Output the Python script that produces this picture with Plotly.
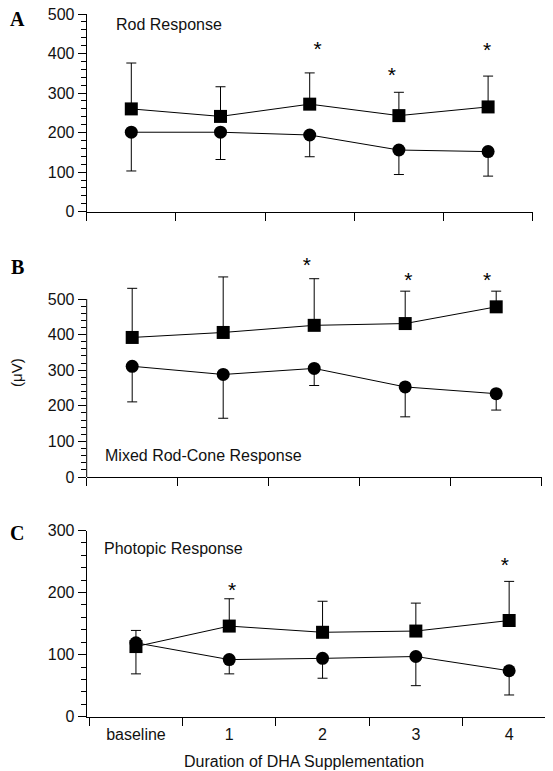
import plotly.graph_objects as go

# page is 553x771; the browser body has an 8px margin, so the figure is 8px smaller
PAGE_W, PAGE_H = 553, 771
OFF = 8
W, H = PAGE_W - OFF, PAGE_H - OFF

# ---------------- data ----------------
x_labels = ["baseline", "1", "2", "3", "4"]
x_pos = [0, 1, 2, 3, 4]

# A: Rod response
rod_sq = [260, 241, 272, 243, 265]
rod_sq_sd = [116, 75, 79, 59, 78]
rod_ci = [201, 201, 194, 156, 152]
rod_ci_sd = [98, 69, 55, 62, 62]
rod_star_x = [2.09, 2.92, 3.99]
rod_star_y = [408, 342, 404]

# B: Mixed rod-cone response
mix_sq = [392, 406, 426, 431, 478]
mix_sq_sd = [138, 156, 131, 91, 44]
mix_ci = [311, 288, 305, 253, 234]
mix_ci_sd = [100, 123, 48, 84, 46]
mix_star_x = [1.92, 3.035, 3.9]
mix_star_y = [592, 548, 548]

# C: Photopic response
pho_sq = [113, 146, 136, 138, 155]
pho_sq_sd = [26, 44, 50, 45, 63]
pho_ci = [119, 92, 94, 97, 74]
pho_ci_sd = [50, 23, 32, 47, 39]
pho_star_x = [1.03, 3.955]
pho_star_y = [201, 241]

y_ticks_A = [0, 100, 200, 300, 400, 500]
y_ticks_B = [0, 100, 200, 300, 400, 500]
y_ticks_C = [0, 100, 200, 300]

# ---------------- helpers (page pixels -> paper) ----------------
def px_x(p):
    return (p - OFF) / W

def px_y(p):
    return 1 - (p - OFF) / H

FONT = "Arial, Liberation Sans, Helvetica, sans-serif"
SERIF = "Times New Roman, Liberation Serif, serif"
BLACK = "black"

fig = go.Figure()

def add_panel(idx, sq, sq_sd, ci, ci_sd, sx, sy):
    xa = "x" if idx == 1 else f"x{idx}"
    ya = "y" if idx == 1 else f"y{idx}"
    fig.add_trace(go.Scatter(
        x=x_pos, y=sq, mode="lines+markers", xaxis=xa, yaxis=ya,
        line=dict(color=BLACK, width=1),
        marker=dict(symbol="square", size=13, color=BLACK),
        error_y=dict(type="data", symmetric=False, array=sq_sd,
                     arrayminus=[0] * len(sq_sd), color=BLACK,
                     thickness=1, width=5),
        showlegend=False, cliponaxis=False))
    fig.add_trace(go.Scatter(
        x=x_pos, y=ci, mode="lines+markers", xaxis=xa, yaxis=ya,
        line=dict(color=BLACK, width=1),
        marker=dict(symbol="circle", size=13, color=BLACK),
        error_y=dict(type="data", symmetric=False, array=[0] * len(ci_sd),
                     arrayminus=ci_sd, color=BLACK, thickness=1, width=5),
        showlegend=False, cliponaxis=False))
    fig.add_trace(go.Scatter(
        x=sx, y=sy, mode="text", text=["*"] * len(sx), xaxis=xa, yaxis=ya,
        textfont=dict(family=FONT, size=21, color=BLACK),
        showlegend=False, cliponaxis=False))

add_panel(1, rod_sq, rod_sq_sd, rod_ci, rod_ci_sd, rod_star_x, rod_star_y)
add_panel(2, mix_sq, mix_sq_sd, mix_ci, mix_ci_sd, mix_star_x, mix_star_y)
add_panel(3, pho_sq, pho_sq_sd, pho_ci, pho_ci_sd, pho_star_x, pho_star_y)

bounds = [v - 0.5 for v in x_pos] + [x_pos[-1] + 0.5]

def xaxis(domain, rng, anchor, labels):
    return dict(
        domain=domain, range=rng, anchor=anchor, automargin=False,
        showline=True, linecolor=BLACK, linewidth=1,
        showgrid=False, zeroline=False,
        tickmode="array", tickvals=x_pos, ticktext=x_labels,
        showticklabels=labels, ticks="outside", ticklen=3,
        tickcolor="rgba(0,0,0,0)", ticklabeloverflow="allow",
        tickfont=dict(family=FONT, size=16, color="#111"),
        minor=dict(tickmode="array", tickvals=bounds, ticks="outside",
                   ticklen=8, tickwidth=1, tickcolor=BLACK, showgrid=False),
    )

def yaxis(domain, rng, anchor, ticks, top, showline=True):
    minor_vals = [v for v in range(0, top + 1, 20) if v % 100 != 0]
    return dict(
        domain=domain, range=rng, anchor=anchor, automargin=False,
        showline=showline, linecolor=BLACK, linewidth=1,
        showgrid=False, zeroline=False,
        tickmode="array", tickvals=ticks, ticklabeloverflow="allow",
        ticks="outside", ticklen=8, tickwidth=1, tickcolor=BLACK,
        tickfont=dict(family=FONT, size=16, color="#111"),
        minor=dict(tickmode="array", tickvals=minor_vals, ticks="outside",
                   ticklen=5, tickwidth=1, tickcolor=BLACK, showgrid=False),
    )

y_axis_px = 86.7

# Panel A
xA = xaxis([px_x(y_axis_px), px_x(532.7)], [-0.5, 4.5], "y", False)
yA = yaxis([px_y(211.7), px_y(14)], [0, 500], "x", y_ticks_A, 500)

# Panel B (axis drawn only to 500, data extends above)
b0, b500 = 477.0, 299.0
b_scale = (b0 - b500) / 500
b_top = 620
xB = xaxis([px_x(y_axis_px), px_x(541.7)], [-0.5, 4.5], "y2", False)
yB = yaxis([px_y(b0), px_y(b0 - b_top * b_scale)], [0, b_top], "x2",
           y_ticks_B, 500, showline=False)

# Panel C
c_first, c_sp = 89.3, 93.3
c_start = -0.5 - (c_first - y_axis_px) / c_sp
c_end = c_start + (PAGE_W - y_axis_px) / c_sp
xC = xaxis([px_x(y_axis_px), 1.0], [c_start, c_end], "y3", True)
yC = yaxis([px_y(716.7), px_y(530.5)], [0, 300], "x3", y_ticks_C, 300)

fig.update_layout(
    width=W, height=H,
    margin=dict(l=0, r=0, t=0, b=0, pad=0),
    paper_bgcolor="white", plot_bgcolor="white",
    xaxis=xA, yaxis=yA,
    xaxis2=xB, yaxis2=yB,
    xaxis3=xC, yaxis3=yC,
    font=dict(family=FONT, size=16, color="#111"),
)

fig.add_shape(type="line", xref="paper", yref="y2",
              x0=px_x(y_axis_px), x1=px_x(y_axis_px), y0=0, y1=500,
              line=dict(color=BLACK, width=1))

ann = [
    dict(text="<b>A</b>", x=px_x(17), y=px_y(19), font=dict(family=SERIF, size=20, color=BLACK)),
    dict(text="<b>B</b>", x=px_x(17), y=px_y(267), font=dict(family=SERIF, size=20, color=BLACK)),
    dict(text="<b>C</b>", x=px_x(17), y=px_y(533), font=dict(family=SERIF, size=20, color=BLACK)),
    dict(text="Rod Response", x=px_x(114), y=px_y(24), xanchor="left",
         font=dict(family=FONT, size=16, color="#111")),
    dict(text="Mixed Rod-Cone Response", x=px_x(103), y=px_y(455), xanchor="left",
         font=dict(family=FONT, size=16, color="#111")),
    dict(text="Photopic Response", x=px_x(102), y=px_y(548), xanchor="left",
         font=dict(family=FONT, size=16, color="#111")),
    dict(text="(\u03bcV)", x=px_x(16), y=px_y(373), textangle=-90,
         font=dict(family=FONT, size=15, color="#111")),
    dict(text="Duration of DHA Supplementation", x=px_x(304), y=px_y(761),
         font=dict(family=FONT, size=16, color="#111")),
]
for a in ann:
    a.setdefault("xanchor", "center")
    a.update(xref="paper", yref="paper", yanchor="middle", showarrow=False)
    fig.add_annotation(**a)

fig.write_html("out.html")
